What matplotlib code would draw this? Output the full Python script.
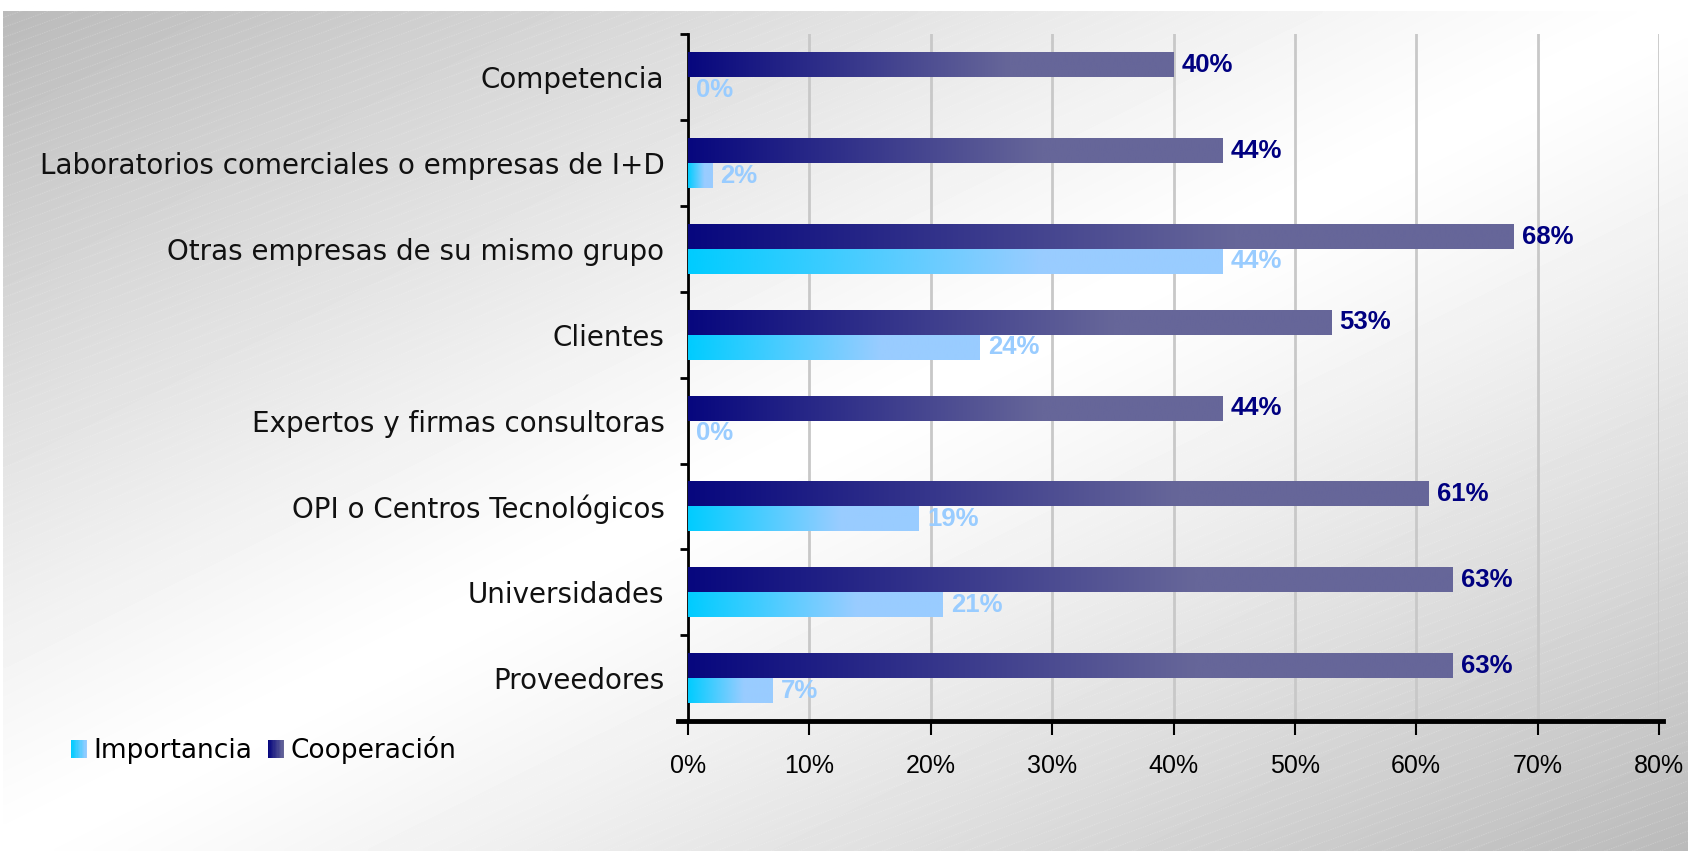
#!/usr/bin/env python3

import numpy as np
import matplotlib
matplotlib.use('Agg')
from matplotlib import pyplot as plt
from matplotlib.colors import to_rgb
from matplotlib.legend_handler import HandlerBase
from matplotlib.patches import Rectangle
from matplotlib.ticker import PercentFormatter


categories = [
        'Competencia',
        'Laboratorios comerciales o empresas de I+D',
        'Otras empresas de su mismo grupo',
        'Clientes',
        'Expertos y firmas consultoras',
        'OPI o Centros Tecnológicos',
        'Universidades',
        'Proveedores',
        ]
cooperacion = [40, 44, 68, 53, 44, 61, 63, 63]
importancia = [0, 2, 44, 24, 0, 19, 21, 7]
series_names = ['Importancia', 'Cooperación']

COOP = ('#07077e', '#666699')
IMP = ('#00ccff', '#99ccff')
W, H = 1688, 851


def ramp(c0, c1, n=256, knee=0.66):
    t = np.clip(np.linspace(0, 1, n) / knee, 0, 1)
    a, b = np.array(to_rgb(c0)), np.array(to_rgb(c1))
    return (a + (b - a) * t[:, None])[None, :, :]


class GradientHandle(HandlerBase):
    def __init__(self, c0, c1, steps=12):
        super().__init__()
        self.c0, self.c1, self.steps = c0, c1, steps

    def create_artists(self, legend, orig_handle, xdescent, ydescent,
                       width, height, fontsize, trans):
        a, b = np.array(to_rgb(self.c0)), np.array(to_rgb(self.c1))
        step = width / self.steps
        out = []
        for k in range(self.steps):
            f = k / (self.steps - 1)
            out.append(Rectangle((-xdescent + k * step, -ydescent),
                                 step * 1.05, height,
                                 facecolor=a + (b - a) * f, edgecolor='none',
                                 transform=trans))
        return out


fig = plt.figure(figsize=(W / 100, H / 100), dpi=100)

# background: diagonal grey-white-grey gradient with faint stripes
bg = fig.add_axes([3 / W, 0, 1 - 3 / W, 840 / H], zorder=-10)
xx, yy = np.meshgrid(np.linspace(0, 1, 400), np.linspace(0, 1, 200))
gray = 1 - 0.27 * np.abs(xx + yy - 1) ** 1.2
bg.imshow(gray, cmap='gray', vmin=0, vmax=1, extent=(0, 1, 0, 1),
          origin='upper', aspect='auto', interpolation='bilinear')
slope = 0.36 * (W - 3) / 840
for c in np.arange(-slope, 1, 10 / 840):
    bg.plot([0, 1], [c, c + slope], color='white', alpha=0.2,
            linewidth=0.7, linestyle=(0, (1.5, 1)))
bg.set_xlim(0, 1)
bg.set_ylim(0, 1)
bg.axis('off')

ax = fig.add_axes([688 / W, 1 - 721 / H, (1659 - 688) / W, (721 - 34.5) / H])
ax.patch.set_alpha(0)

y = np.arange(len(categories))
h = 0.29
coop_bars = ax.barh(y - h / 2, cooperacion, height=h, color='none',
                    linewidth=0, zorder=3)
imp_bars = ax.barh(y + h / 2, importancia, height=h, color='none',
                   linewidth=0, zorder=3)

for bars, cols in ((coop_bars, COOP), (imp_bars, IMP)):
    for r in bars:
        if r.get_width() <= 0:
            continue
        x0, y0 = r.get_x(), r.get_y()
        ax.imshow(ramp(*cols), extent=(x0, x0 + r.get_width(),
                                       y0, y0 + r.get_height()),
                  aspect='auto', interpolation='bilinear', zorder=3)

for bars, vals, col in ((coop_bars, cooperacion, '#000080'),
                        (imp_bars, importancia, '#99ccff')):
    for r, v in zip(bars, vals):
        ax.annotate('{}%'.format(v),
                    (r.get_width(), r.get_y() + r.get_height() / 2),
                    xytext=(6, 0), textcoords='offset points',
                    ha='left', va='center', fontsize=18.5,
                    fontweight='bold', color=col, family='Liberation Sans',
                    zorder=4)

ax.set_xlim(0, 80)
ax.set_ylim(len(categories) - 0.5, -0.5)

ax.set_yticks(y, categories, fontsize=20, color='#111111')
ax.set_yticks(np.arange(-0.5, len(categories), 1), minor=True)
ax.tick_params(axis='y', which='major', length=0, pad=17)
ax.tick_params(axis='y', which='minor', length=6, width=2, direction='out')

ax.set_xticks(np.arange(0, 81, 10))
ax.xaxis.set_major_formatter(PercentFormatter(xmax=100, decimals=0))
ax.tick_params(axis='x', which='major', length=10, width=1.5, pad=14,
               labelsize=18)
for lab in ax.get_xticklabels():
    lab.set_family('Liberation Sans')

ax.grid(axis='x', color='#c8c8c8', linewidth=2)
ax.set_axisbelow(True)

ax.spines['top'].set_visible(False)
ax.spines['right'].set_visible(False)
ax.spines['left'].set_linewidth(2)
ax.spines['bottom'].set_linewidth(3.5)
ax.spines['bottom'].set_bounds(-0.8, 80.3)

h_imp = Rectangle((0, 0), 1, 1)
h_coop = Rectangle((0, 0), 1, 1)
fig.legend([h_imp, h_coop], series_names, loc='center left',
           bbox_to_anchor=(71 / W, 1 - 750 / H), ncol=2, frameon=False,
           fontsize=19, handlelength=0.6, handleheight=0.68,
           handletextpad=0.25, columnspacing=0.6, borderpad=0,
           borderaxespad=0,
           handler_map={h_imp: GradientHandle(*IMP),
                        h_coop: GradientHandle(*COOP)})

fig.savefig('out.png', dpi=100)
